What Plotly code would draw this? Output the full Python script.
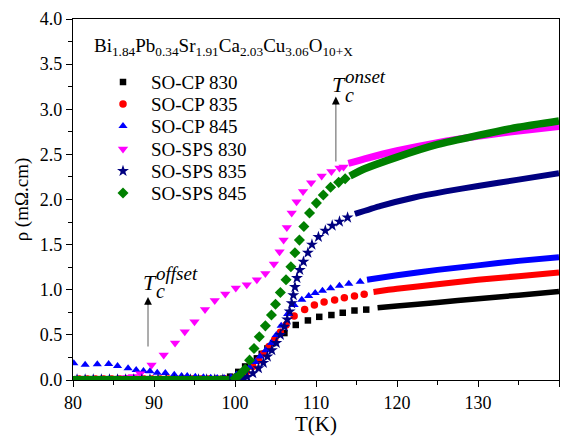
import plotly.graph_objects as go

# ---------------- data ----------------
# SO-CP 830 (black squares)
black_T = [80.5, 81.5, 82.5, 83.5, 84.5, 85.5, 86.5, 87.5, 88.5, 89.5, 90.5, 91.5, 92.5, 93.5, 94.5,
           95.5, 96.5, 97.5, 98.5, 99.4, 100.4, 101.25, 102.1, 102.7, 103.3, 104.0, 104.7, 106.1,
           107.5, 109.0, 110.4, 111.9, 113.3, 114.75, 116.2]
black_rho = [0.01, 0.01, 0.01, 0.01, 0.01, 0.01, 0.01, 0.01, 0.01, 0.01, 0.01, 0.01, 0.01, 0.01, 0.01,
             0.01, 0.01, 0.01, 0.015, 0.037, 0.09, 0.15, 0.196, 0.24, 0.29, 0.35, 0.41, 0.52,
             0.61, 0.66, 0.70, 0.72, 0.745, 0.77, 0.78]
black_tail_T = [117.6, 120, 125, 130, 135, 140]
black_tail_rho = [0.80, 0.82, 0.86, 0.90, 0.94, 0.98]

# SO-CP 835 (red circles)
red_T = [80.8, 81.8, 82.8, 83.8, 84.8, 85.8, 86.8, 87.8, 88.8, 89.8, 90.8, 91.8, 92.8, 93.8, 94.8,
         95.8, 96.8, 97.8, 98.8, 99.8, 100.6, 101.4, 102.2, 102.9, 103.5, 104.2, 104.9, 105.6, 106.3,
         107.3, 108.6, 109.8, 111.0, 112.3, 113.5, 114.75, 115.95]
red_rho = [0.01, 0.01, 0.01, 0.01, 0.01, 0.01, 0.01, 0.01, 0.01, 0.01, 0.01, 0.01, 0.01, 0.01, 0.01,
           0.01, 0.01, 0.01, 0.012, 0.02, 0.05, 0.09, 0.15, 0.22, 0.29, 0.37, 0.45, 0.53, 0.61,
           0.71, 0.78, 0.83, 0.865, 0.886, 0.91, 0.93, 0.95]
red_tail_T = [117.1, 120, 125, 130, 135, 140]
red_tail_rho = [0.975, 1.01, 1.06, 1.11, 1.15, 1.19]

# SO-CP 845 (blue up-triangles)
blue_T = [80.1, 81.5, 83.0, 84.4, 85.5, 86.8, 87.8, 88.7, 89.5, 90.4, 91.4, 92.5, 93.4, 94.1, 95.1,
          96.1, 97.0, 97.8, 98.7, 99.5, 100.2, 101.0, 101.8, 102.5, 103.1, 103.8, 104.5, 105.1, 105.7,
          106.5, 107.3, 108.25, 109.1, 109.9, 110.8, 111.8, 112.9, 114.05, 115.45]
blue_rho = [0.185, 0.168, 0.174, 0.177, 0.155, 0.13, 0.11, 0.10, 0.098, 0.08, 0.078, 0.058, 0.045, 0.044,
            0.035, 0.03, 0.025, 0.022, 0.02, 0.03, 0.06, 0.10, 0.14, 0.20, 0.26, 0.33, 0.41, 0.50, 0.60,
            0.73, 0.83, 0.89, 0.93, 0.965, 0.99, 1.016, 1.045, 1.067, 1.09]
blue_tail_T = [116.3, 120, 125, 130, 135, 140]
blue_tail_rho = [1.11, 1.16, 1.22, 1.27, 1.32, 1.36]

# SO-SPS 830 (magenta down-triangles)
mag_T = [80.5, 81.5, 82.5, 83.5, 84.5, 85.3, 86.0, 86.7, 87.4, 88.3, 89.7, 91.2, 92.6, 93.8, 95.0,
         96.3, 97.5, 98.8, 100.1, 101.45, 102.7, 103.75, 104.8, 105.5, 106.0, 106.4, 107.0, 107.6,
         108.4, 109.4, 110.7, 111.9, 112.9, 113.4]
mag_rho = [0.01, 0.01, 0.01, 0.012, 0.015, 0.018, 0.022, 0.028, 0.04, 0.07, 0.166, 0.277, 0.41, 0.535,
           0.646, 0.78, 0.88, 0.953, 1.02, 1.055, 1.11, 1.18, 1.285, 1.42, 1.55, 1.69, 1.85, 1.975,
           2.09, 2.185, 2.26, 2.31, 2.35, 2.36]
mag_tail_T = [114.0, 116, 120, 125, 130, 135, 140]
mag_tail_rho = [2.40, 2.45, 2.54, 2.63, 2.70, 2.76, 2.81]

# SO-SPS 835 (navy stars)
navy_T = [80.5, 81.5, 82.5, 83.5, 84.5, 85.5, 86.5, 87.5, 88.5, 89.5, 90.5, 91.5, 92.5, 93.5, 94.5,
          95.5, 96.5, 97.5, 98.5, 99.3, 100.0, 100.5, 101.0, 101.5, 102.2, 102.9, 103.5, 104.0, 104.55,
          105.1, 105.6, 106.1, 106.45, 106.75, 107.0, 107.2, 107.4, 107.65, 108.0, 108.45, 109.0,
          109.5, 110.3, 111.15, 112.0, 112.9, 113.9]
navy_rho = [0.005, 0.005, 0.005, 0.005, 0.005, 0.005, 0.005, 0.005, 0.005, 0.005, 0.005, 0.005, 0.005,
            0.005, 0.005, 0.005, 0.005, 0.005, 0.005, 0.005, 0.005, 0.01, 0.02, 0.035, 0.075, 0.13, 0.19,
            0.26, 0.33, 0.41, 0.5, 0.59, 0.67, 0.76, 0.85, 0.94, 1.03, 1.13, 1.22, 1.31, 1.41, 1.50,
            1.585, 1.655, 1.71, 1.755, 1.80]
navy_tail_T = [114.8, 118, 122, 126, 130, 135, 140]
navy_tail_rho = [1.84, 1.93, 2.02, 2.09, 2.15, 2.22, 2.29]

# SO-SPS 845 (green diamonds)
green_low_T = [80, 90, 99.3]
green_low_rho = [0.012, 0.01, 0.01]
green_T = [100.0, 100.6, 101.25, 101.8, 102.35, 103.0, 103.75, 104.5, 105.0, 105.6, 106.3, 106.9,
           107.4, 107.95, 108.5, 109.2, 110.05, 110.9, 111.8, 112.8, 113.6]
green_rho = [0.02, 0.06, 0.12, 0.22, 0.35, 0.48, 0.60, 0.72, 0.84, 0.97, 1.11, 1.255, 1.41, 1.55,
             1.70, 1.85, 1.96, 2.05, 2.135, 2.19, 2.23]
green_tail_T = [114.2, 116, 120, 125, 130, 135, 140]
green_tail_rho = [2.26, 2.34, 2.47, 2.61, 2.71, 2.80, 2.87]

names = ["SO-CP 830", "SO-CP 835", "SO-CP 845", "SO-SPS 830", "SO-SPS 835", "SO-SPS 845"]
colors = ["#000000", "#ff0000", "#0000ff", "#ff00ff", "#000080", "#008000"]
symbols = ["square", "circle", "triangle-up", "triangle-down", "star", "diamond"]
msizes = [6.5, 7.5, 8, 9, 9, 8.5]
tail_widths = [5.5, 6, 6, 7, 6, 7.5]

x_ticks = [80, 90, 100, 110, 120, 130, 140]
y_ticks = [0.0, 0.5, 1.0, 1.5, 2.0, 2.5, 3.0, 3.5, 4.0]

# onset / offset markers (T, rho_bottom, rho_top)
onset = (112.45, 2.42, 3.14)
offset = (89.26, 0.37, 0.92)

FONT = "Liberation Serif"
W, H = 571, 436
ML, MR, MT, MB = 73, 12, 19, 56

sparse = [(black_T, black_rho), (red_T, red_rho), (blue_T, blue_rho),
          (mag_T, mag_rho), (navy_T, navy_rho), (green_T, green_rho)]
tails = [(black_tail_T, black_tail_rho), (red_tail_T, red_tail_rho), (blue_tail_T, blue_tail_rho),
         (mag_tail_T, mag_tail_rho), (navy_tail_T, navy_tail_rho), (green_tail_T, green_tail_rho)]

fig = go.Figure()
for i in range(6):
    if i == 5:
        fig.add_trace(go.Scatter(x=green_low_T, y=green_low_rho, mode="lines",
                                 line=dict(color=colors[i], width=tail_widths[i] - 1.5),
                                 showlegend=False, hoverinfo="skip"))
    t, r = sparse[i]
    fig.add_trace(go.Scatter(x=t, y=r, mode="markers", name=names[i],
                             marker=dict(symbol=symbols[i], size=msizes[i], color=colors[i],
                                         line=dict(width=0)),
                             showlegend=False))
    tt, tr = tails[i]
    fig.add_trace(go.Scatter(x=tt, y=tr, mode="lines", line=dict(color=colors[i], width=tail_widths[i],
                                                                 shape="spline", smoothing=0.6),
                             showlegend=False, hoverinfo="skip"))

# ---- manual legend on a pixel-unit overlay axis ----
LEG_MARK_X = 123
LEG_TEXT_X = 149
LEG_ROWS = [82, 104, 126, 149, 171, 193]
for i in range(6):
    fig.add_trace(go.Scatter(x=[LEG_MARK_X], y=[LEG_ROWS[i]], xaxis="x2", yaxis="y2", mode="markers",
                             marker=dict(symbol=symbols[i], size=msizes[i], color=colors[i],
                                         line=dict(width=0)),
                             showlegend=False, hoverinfo="skip"))
    fig.add_annotation(xref="x2", yref="y2", x=LEG_TEXT_X, y=LEG_ROWS[i], text=names[i],
                       xanchor="left", yanchor="middle", showarrow=False,
                       font=dict(family=FONT, size=19, color="black"))

# compound formula
fig.add_annotation(xref="x2", yref="y2", x=92, y=47, xanchor="left", yanchor="middle", showarrow=False,
                   text="Bi<sub>1.84</sub>Pb<sub>0.34</sub>Sr<sub>1.91</sub>Ca<sub>2.03</sub>"
                        "Cu<sub>3.06</sub>O<sub>10+X</sub>",
                   font=dict(family=FONT, size=19, color="black"))

# arrows
for (tx, yb, yt) in [onset, offset]:
    fig.add_shape(type="line", xref="x", yref="y", x0=tx, x1=tx, y0=yb, y1=yt - 0.05,
                  line=dict(color="#808080", width=1.3))
    fig.add_annotation(xref="x", yref="y", axref="x", ayref="y", x=tx, y=yt, ax=tx, ay=yt - 0.1,
                       text="", showarrow=True, arrowhead=2, arrowsize=1.3, arrowwidth=1.2,
                       arrowcolor="black", standoff=0)

# T_c labels
def tc_label(tcenter, rho_T, rho_sup, rho_sub, sup_text, x_left):
    fig.add_annotation(xref="x", yref="y", x=tcenter, y=rho_T, text="<i>T</i>", showarrow=False,
                       xanchor="center", yanchor="middle", font=dict(family=FONT, size=22, color="black"))
    fig.add_annotation(xref="x", yref="y", x=x_left, y=rho_sup, text="<i>" + sup_text + "</i>",
                       showarrow=False, xanchor="left", yanchor="middle",
                       font=dict(family=FONT, size=19, color="black"))
    fig.add_annotation(xref="x", yref="y", x=x_left, y=rho_sub, text="<i>c</i>", showarrow=False,
                       xanchor="left", yanchor="middle", font=dict(family=FONT, size=20, color="black"))

tc_label(112.83, 3.27, 3.36, 3.16, "onset", 113.3)
tc_label(89.5, 1.083, 1.175, 0.99, "offset", 90.05)

axis_common = dict(showline=True, linecolor="black", linewidth=1.3, mirror=True, showgrid=False,
                   zeroline=False, ticks="outside", ticklen=6, tickwidth=1.3, tickcolor="black",
                   automargin=False,
                   tickfont=dict(family=FONT, size=18, color="black"))

fig.update_layout(
    width=W, height=H, margin=dict(l=ML, r=MR, t=MT, b=MB),
    paper_bgcolor="white", plot_bgcolor="white", showlegend=False,
    font=dict(family=FONT, color="black"),
    xaxis=dict(range=[80, 140], tickvals=x_ticks, ticktext=[str(v) for v in x_ticks],
               minor=dict(dtick=5, tick0=80, ticks="outside", ticklen=4, tickwidth=1.3, tickcolor="black"),
               title=dict(text="T(K)", font=dict(family=FONT, size=21, color="black"), standoff=12),
               **axis_common),
    yaxis=dict(range=[0, 4], tickvals=y_ticks, ticktext=["%.1f" % v for v in y_ticks],
               minor=dict(dtick=0.25, tick0=0, ticks="outside", ticklen=4, tickwidth=1.3, tickcolor="black"),
               title=dict(text="ρ (mΩ.cm)", font=dict(family=FONT, size=19, color="black"), standoff=6),
               **axis_common),
    xaxis2=dict(overlaying="x", anchor="y2", range=[ML, W - MR], visible=False, fixedrange=True),
    yaxis2=dict(overlaying="y", anchor="x2", range=[H - MB, MT], visible=False, fixedrange=True),
)

fig.write_html("out.html")
